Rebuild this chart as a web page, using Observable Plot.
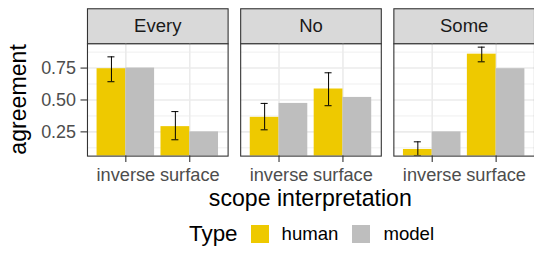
<!DOCTYPE html>
<html>
<head>
<meta charset="utf-8">
<script src="https://cdn.jsdelivr.net/npm/d3@7"></script>
<script src="https://cdn.jsdelivr.net/npm/@observablehq/plot@0.6"></script>
<style>
  html, body { margin: 0; padding: 0; background: #fff; }
  body { width: 534px; height: 253px; overflow: hidden; font-family: "Liberation Sans", Arial, sans-serif; }
  #chart svg { display: block; }
  #legend { height: 37px; display: flex; align-items: center; justify-content: flex-start; padding-left: 189px; box-sizing: border-box; width: 534px; color: #000; }
  #legend .ltitle { font-size: 22.4px; margin-right: 13px; }
  #legend .sw { width: 18px; height: 18px; margin-right: 13px; display: inline-block; }
  #legend .lab { font-size: 18.6px; margin-right: 14px; }
</style>
</head>
<body>
<div id="chart"></div>
<div id="legend"></div>
<script>
// ---- data ----
const quantifiers = ["Every", "No", "Some"];
const interpretations = ["inverse", "surface"];
const types = ["human", "model"];
const colors = ["#EEC900", "#BEBEBE"];
// order: Every-inverse, Every-surface, No-inverse, No-surface, Some-inverse, Some-surface
const humanMean = [0.745, 0.291, 0.364, 0.586, 0.112, 0.859];
const humanLow  = [0.643, 0.188, 0.266, 0.455, 0.065, 0.799];
const humanHigh = [0.838, 0.409, 0.473, 0.713, 0.172, 0.914];
const modelMean = [0.75, 0.25, 0.473, 0.52, 0.25, 0.745];
const yTicks = [0.25, 0.5, 0.75];
const yMinorTicks = [0.125, 0.375, 0.625, 0.875];

// ---- tables ----
const bars = [];
const errs = [];
quantifiers.forEach((q, i) => {
  interpretations.forEach((interp, j) => {
    const k = i * 2 + j;
    bars.push({quantifier: q, interp, pos: j + 1, type: "human", value: humanMean[k]});
    bars.push({quantifier: q, interp, pos: j + 1, type: "model", value: modelMean[k]});
    errs.push({quantifier: q, interp, pos: j + 1, lo: humanLow[k], hi: humanHigh[k]});
  });
});

// ---- layout ----
const W = 536, H = 216, mT = 43.5, mB = 59.8, mL = 87.3;
const frameH = H - mT - mB;
const stripH = 35.2;
const dodge = 0.45;   // half of the 0.9 bar group width
const cap = 0.055;    // half width of error bar caps

const font = '"Liberation Sans", Arial, sans-serif';

const plot = Plot.plot({
  width: W,
  height: H,
  marginTop: mT,
  marginBottom: mB,
  marginLeft: mL,
  marginRight: 0,
  style: {fontFamily: font, background: "#fff", overflow: "visible"},
  fx: {domain: quantifiers, paddingInner: 0.082, paddingOuter: 0, axis: null, label: null, round: false},
  x: {domain: [0.4, 2.6]},
  y: {domain: [0.06, 0.94]},
  color: {domain: types, range: colors},
  marks: [
    // strip background
    Plot.frame({fill: "#D9D9D9", stroke: "#333333", strokeWidth: 1.1, insetBottom: frameH - stripH, dy: -stripH}),
    // panel background
    Plot.frame({fill: "#fff", stroke: "none"}),
    // grid
    Plot.ruleY(yMinorTicks, {stroke: "#EBEBEB", strokeWidth: 0.8}),
    Plot.gridY({ticks: yTicks, stroke: "#EBEBEB", strokeOpacity: 1, strokeWidth: 1.6}),
    Plot.gridX({ticks: [1, 2], stroke: "#EBEBEB", strokeOpacity: 1, strokeWidth: 1.6}),
    // bars
    Plot.rectY(bars, {
      fx: "quantifier",
      x1: d => d.pos + (d.type === "human" ? -dodge : 0),
      x2: d => d.pos + (d.type === "human" ? 0 : dodge),
      y: "value",
      fill: "type",
      clip: true
    }),
    // error bars (human)
    Plot.ruleX(errs, {fx: "quantifier", x: d => d.pos - dodge / 2, y1: "lo", y2: "hi", stroke: "#000", strokeWidth: 1, clip: true}),
    Plot.ruleY(errs, {fx: "quantifier", y: "lo", x1: d => d.pos - dodge / 2 - cap, x2: d => d.pos - dodge / 2 + cap, stroke: "#000", strokeWidth: 1, clip: true}),
    Plot.ruleY(errs, {fx: "quantifier", y: "hi", x1: d => d.pos - dodge / 2 - cap, x2: d => d.pos - dodge / 2 + cap, stroke: "#000", strokeWidth: 1, clip: true}),
    // panel border
    Plot.frame({stroke: "#333333", strokeWidth: 1.1}),
    // axes
    Plot.axisY({ticks: yTicks, tickFormat: d3.format(".2f"), tickSize: 6.5, tickPadding: 5, fontSize: 18, fill: "#4D4D4D", stroke: "#333333", strokeWidth: 1.1, label: null}),
    Plot.axisX({ticks: [1, 2], tickFormat: i => interpretations[i - 1], tickSize: 6.5, tickPadding: 5.5, fontSize: 18.3, fill: "#4D4D4D", stroke: "#333333", strokeWidth: 1.1, label: null}),
    // facet strip labels
    Plot.text(quantifiers, {fx: d => d, text: d => d, frameAnchor: "top", lineAnchor: "middle", dy: -stripH / 2, fontSize: 18.6, fill: "#1A1A1A"})
  ]
});

const svg = d3.select(plot);
svg.append("text")
  .attr("x", 311.5).attr("y", 207)
  .attr("text-anchor", "middle")
  .style("font-size", "23.2px").style("fill", "#000")
  .text("scope interpretation");
svg.append("text")
  .attr("transform", "translate(26,99.8) rotate(-90)")
  .attr("text-anchor", "middle")
  .style("font-size", "23.2px").style("fill", "#000")
  .text("agreement");

document.getElementById("chart").appendChild(plot);

// legend
const legend = d3.select("#legend");
legend.append("span").attr("class", "ltitle").text("Type");
types.forEach((t, i) => {
  legend.append("span").attr("class", "sw").style("background", colors[i]);
  legend.append("span").attr("class", "lab").text(t);
});
</script>
</body>
</html>
